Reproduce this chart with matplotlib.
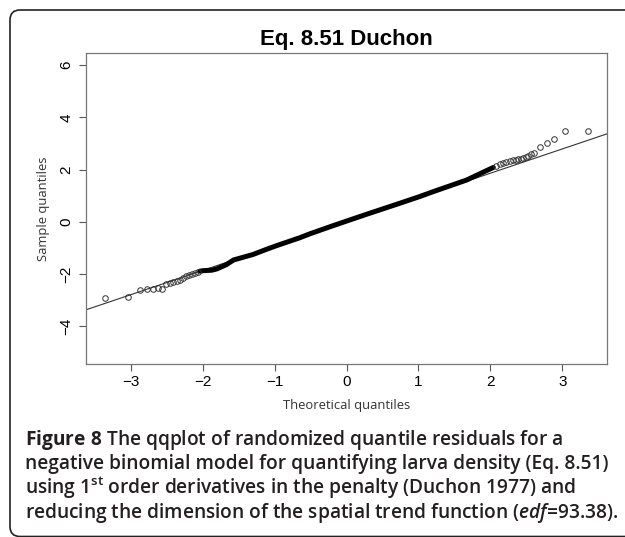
import numpy as np
import matplotlib
matplotlib.use("Agg")
import matplotlib.pyplot as plt
from matplotlib.patches import FancyBboxPatch
from matplotlib.transforms import IdentityTransform

# dense body of the qq plot (overlapping circles read as one thick band)
band_x = [-2.04, -1.99, -1.87, -1.80, -1.67, -1.57, -1.30, -1.11, -0.97, -0.65,
          -0.51, -0.19, 0.28, 0.74, 1.02, 1.20, 1.67, 1.90, 2.04]
band_y = [-1.89, -1.87, -1.85, -1.80, -1.64, -1.46, -1.25, -1.05, -0.91, -0.61,
          -0.46, -0.15, 0.29, 0.71, 0.97, 1.15, 1.60, 1.90, 2.08]

# single points in the tails
lo_x = [-3.35, -3.03, -2.875, -2.77, -2.69, -2.62, -2.56, -2.51, -2.45, -2.41,
        -2.36, -2.31, -2.27, -2.23, -2.19, -2.15, -2.11, -2.07]
lo_y = [-2.91, -2.87, -2.62, -2.58, -2.56, -2.53, -2.56, -2.38, -2.34, -2.30,
        -2.28, -2.21, -2.14, -2.08, -2.04, -2.00, -1.97, -1.93]
hi_x = [2.08, 2.13, 2.18, 2.22, 2.27, 2.31, 2.35, 2.38, 2.42, 2.45, 2.49, 2.52,
        2.57, 2.61, 2.69, 2.78, 2.88, 3.04, 3.36]
hi_y = [2.14, 2.22, 2.26, 2.30, 2.33, 2.35, 2.37, 2.39, 2.41, 2.43, 2.47, 2.51,
        2.59, 2.62, 2.87, 3.03, 3.18, 3.46, 3.47]

# qqline
line_intercept = 0.0
line_slope = 0.93

x_ticks = [-3, -2, -1, 0, 1, 2, 3]
y_ticks = [-4, -2, 0, 2, 4, 6]

title = "Eq. 8.51 Duchon"
x_label = "Theoretical quantiles"
y_label = "Sample quantiles"
caption = [
    r"$\mathbf{Figure\ 8}$ The qqplot of randomized quantile residuals for a",
    "negative binomial model for quantifying larva density (Eq. 8.51)",
    r"using 1$^{\mathrm{st}}$ order derivatives in the penalty (Duchon 1977) and",
    r"reducing the dimension of the spatial trend function ($\mathit{edf}$=93.38).",
]

plt.rcParams["mathtext.fontset"] = "custom"
plt.rcParams["mathtext.rm"] = "Open Sans:semibold"
plt.rcParams["mathtext.bf"] = "Open Sans:bold"
plt.rcParams["mathtext.it"] = "Open Sans:italic:semibold"

fig = plt.figure(figsize=(6.25, 5.37), dpi=100)
ax = fig.add_axes([86 / 625, 1 - 364 / 537, 521 / 625, 311 / 537])

ax.plot(band_x, band_y, color="black", lw=3.6, solid_capstyle="round", zorder=3)
ax.plot(lo_x, lo_y, "o", mfc="none", mec="#333333", ms=4, mew=0.7, zorder=3)
ax.plot(hi_x, hi_y, "o", mfc="none", mec="#333333", ms=4, mew=0.7, zorder=3)
ax.axline((0, line_intercept), slope=line_slope, color="#333333", lw=0.8, zorder=2)

ax.set_xlim(-3.62, 3.62)
ax.set_ylim(-5.44, 6.46)
ax.set_xticks(x_ticks)
ax.set_yticks(y_ticks)
ax.set_xticklabels([str(v).replace("-", "\u2212") for v in x_ticks],
                   family="Liberation Sans", fontsize=11)
ax.set_yticklabels([str(v).replace("-", "\u2212") for v in y_ticks],
                   family="Liberation Sans", fontsize=11, rotation=90, va="center")
ax.tick_params(length=5, width=0.8, color="#555555", pad=3)
ax.tick_params(axis="y", pad=4)
for s in ax.spines.values():
    s.set_color("#777777")
    s.set_linewidth(0.9)

ax.set_xlabel(x_label, family="Open Sans", fontsize=9.4, color="#333333", labelpad=7)
ax.set_ylabel(y_label, family="Open Sans", fontsize=9.4, color="#333333", labelpad=7)

fig.text(346 / 625, 1 - 40 / 537, title, ha="center", va="center",
         family="Liberation Sans", weight="bold", fontsize=16)

for i, line in enumerate(caption):
    fig.text(25 / 625, 1 - (445 + 24.3 * i) / 537, line, ha="left", va="baseline",
             family="Open Sans", weight="semibold", fontsize=13.8, color="#231f20")

border = FancyBboxPatch((10, 0.5), 700, 526.5, boxstyle="round,pad=0,rounding_size=10",
                        transform=IdentityTransform(), fill=False,
                        edgecolor="#222222", lw=1.2)
fig.add_artist(border)

fig.savefig("out.png", dpi=100)
